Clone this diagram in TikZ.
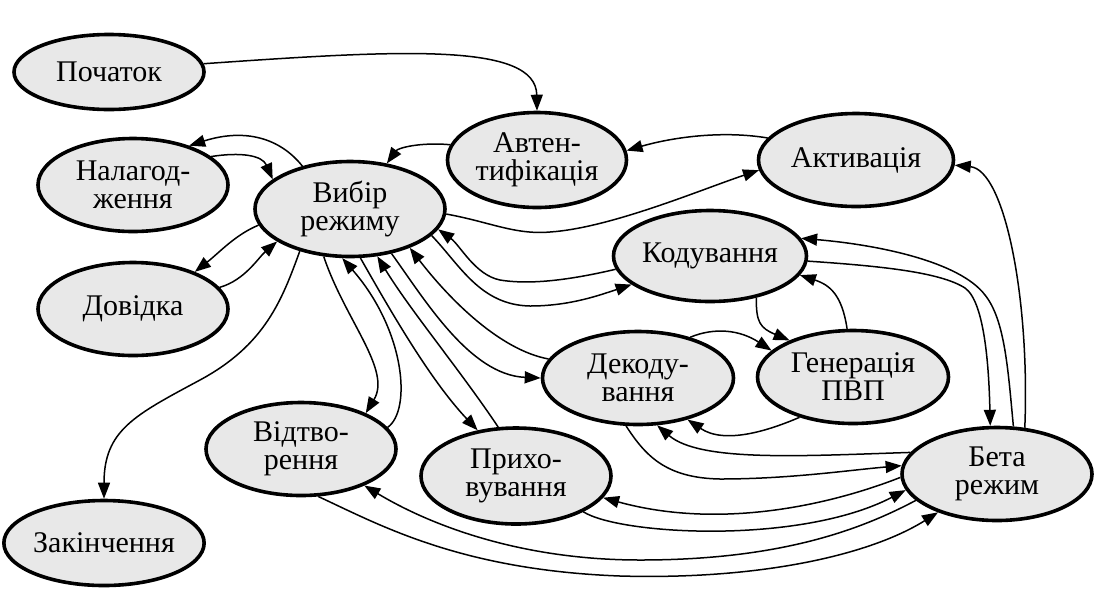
\documentclass[tikz,border=0pt]{standalone}
\usepackage{fontspec}
\setmainfont{Liberation Serif}
\usetikzlibrary{shapes.geometric,arrows.meta}
\definecolor{nodefill}{RGB}{232,232,232}
\newcommand{\statefont}{\fontsize{30}{28}\selectfont}
\begin{document}
\begin{tikzpicture}[x=1pt,y=-1pt,
  state/.style={ellipse, draw, line width=3.6pt, fill=nodefill,
    minimum width=190pt, minimum height=93pt, inner sep=0pt,
    align=center, font=\statefont},
  arr/.style={line width=1.5pt, -{Triangle[length=16pt,width=12pt]}}]
\useasboundingbox (0,0) rectangle (1094,590);

% states
\node[state, minimum height=75pt] (start) at (109,72) {Початок};
\node[state] (debug) at (133,185) {Налагод-\\ження};
\node[state, minimum height=95pt] (sel) at (350,209) {Вибір\\режиму};
\node[state, minimum width=179pt, minimum height=95pt] (auth) at (537,160) {Автен-\\тифікація};
\node[state, minimum width=195pt] (act) at (856,160) {Активація};
\node[state, minimum width=193pt, minimum height=91pt] (code) at (710,256) {Кодування};
\node[state] (help) at (133,309) {Довідка};
\node[state, minimum width=191pt] (dec) at (638,378) {Декоду-\\вання};
\node[state, minimum width=191pt] (gen) at (853,377) {Генерація\\ПВП};
\node[state] (play) at (301,449) {Відтво-\\рення};
\node[state, minimum height=96pt] (hide) at (516,476) {Прихо-\\вування};
\node[state] (beta) at (997,474) {Бета\\режим};
\node[state, minimum width=178pt, minimum height=85pt] (fin) at (104,543) {Закінчення};

% transitions
\draw[arr] (start.5) .. controls (400,50) and (536,42) .. (auth.north);
\draw[arr] (auth.170) .. controls (420,142) and (398,148) .. (sel.51);
\draw[arr] (act.166) .. controls (720,130) and (670,138) .. (auth.6);
\draw[arr] (sel.-3) .. controls (490,222) and (515,235) .. (550,232)
  .. controls (610,228) and (700,190) .. (act.186);
\draw[arr] (sel.138) .. controls (280,138) and (245,128) .. (debug.35);
\draw[arr] (debug.20) .. controls (240,152) and (262,155) .. (sel.159);
\draw[arr] (sel.190) .. controls (235,235) and (220,252) .. (help.31);
\draw[arr] (help.14) .. controls (245,280) and (258,258) .. (sel.204);
\draw[arr] (sel.220) .. controls (282,300) and (265,345) .. (200,380)
  .. controls (135,415) and (104,430) .. (fin.north);
\draw[arr] (sel.241) .. controls (345,320) and (392,370) .. (play.29);
\draw[arr] (play.14) .. controls (412,410) and (405,330) .. (sel.261);
\draw[arr] (sel.282) .. controls (390,310) and (430,380) .. (hide.130);
\draw[arr] (hide.110) .. controls (460,370) and (410,310) .. (sel.300);
\draw[arr] (sel.313) .. controls (425,300) and (470,375) .. (dec.180);
\draw[arr] (dec.168) .. controls (500,350) and (450,300) .. (sel.327);
\draw[arr] (sel.342) .. controls (460,265) and (480,305) .. (530,306)
  .. controls (570,306) and (600,295) .. (code.200);
\draw[arr] (code.188) .. controls (570,280) and (530,285) .. (500,280)
  .. controls (475,275) and (460,245) .. (sel.347);
\draw[arr] (code.318) .. controls (756,322) and (760,328) .. (gen.150);
\draw[arr] (gen.97) .. controls (842,295) and (830,285) .. (code.348);
\draw[arr] (dec.38) .. controls (715,327) and (740,330) .. (gen.162);
\draw[arr] (gen.217) .. controls (770,430) and (725,445) .. (dec.320);
\draw[arr] (code.-3) .. controls (880,266) and (940,272) .. (965,288)
  .. controls (985,302) and (989,370) .. (beta.98);
\draw[arr] (beta.71) .. controls (1008,370) and (1005,320) .. (985,295)
  .. controls (960,262) and (880,245) .. (code.11);
\draw[arr] (beta.59) .. controls (1030,300) and (1005,170) .. (act.357);
\draw[arr] (beta.166) .. controls (800,456) and (700,462) .. (dec.292);
\draw[arr] (dec.256) .. controls (645,455) and (665,478) .. (720,479)
  .. controls (790,479) and (850,470) .. (beta.175);
\draw[arr] (beta.182) .. controls (830,505) and (720,530) .. (hide.346);
\draw[arr] (hide.332) .. controls (620,535) and (800,545) .. (beta.190);
\draw[arr] (beta.198) .. controls (860,530) and (780,560) .. (640,560)
  .. controls (520,560) and (430,525) .. (play.330);
\draw[arr] (play.290) .. controls (380,525) and (460,570) .. (620,576)
  .. controls (760,580) and (870,555) .. (beta.213);
\end{tikzpicture}
\end{document}
